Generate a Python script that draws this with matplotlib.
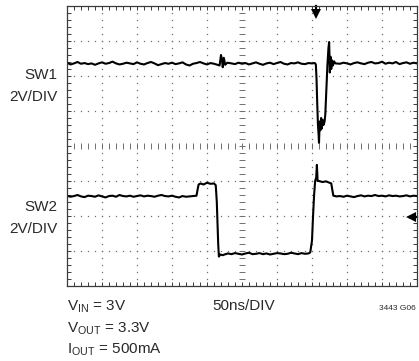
import numpy as np
import matplotlib
matplotlib.use("Agg")
import matplotlib.pyplot as plt

plt.rcParams["font.family"] = ["Liberation Sans", "DejaVu Sans"]
plt.rcParams["mathtext.fontset"] = "custom"
plt.rcParams["mathtext.rm"] = "Liberation Sans"
plt.rcParams["mathtext.it"] = "Liberation Sans:italic"

# ---- trace data (time in divisions, amplitude in divisions) ----
sw1_t = ([round(0.1 * i, 2) for i in range(44)]
         + [4.36, 4.40, 4.43, 4.45, 4.48, 4.52, 4.58]
         + [round(4.7 + 0.1 * i, 2) for i in range(24)]
         + [7.08, 7.11, 7.13, 7.15, 7.17, 7.19, 7.20, 7.22, 7.24, 7.26, 7.28,
            7.30, 7.33, 7.36, 7.38, 7.41, 7.44, 7.47, 7.49, 7.51, 7.53, 7.55,
            7.57, 7.60, 7.63, 7.67]
         + [round(7.8 + 0.1 * i, 2) for i in range(23)])
sw1_v = ([6.38, 6.33, 6.36, 6.40, 6.35, 6.37, 6.34, 6.36, 6.32, 6.36, 6.39,
          6.35, 6.37, 6.41, 6.36, 6.33, 6.35, 6.38, 6.36, 6.34, 6.39, 6.35,
          6.33, 6.37, 6.40, 6.36, 6.31, 6.34, 6.37, 6.35, 6.38, 6.34, 6.36,
          6.39, 6.33, 6.30, 6.35, 6.37, 6.40, 6.36, 6.33, 6.37, 6.35, 6.32]
         + [6.30, 6.60, 6.45, 6.25, 6.52, 6.32, 6.38]
         + [6.36, 6.34, 6.38, 6.35, 6.37, 6.33, 6.36, 6.39, 6.35, 6.32, 6.36,
            6.38, 6.34, 6.37, 6.40, 6.35, 6.33, 6.37, 6.36, 6.39, 6.35, 6.34,
            6.37, 6.36]
         + [6.37, 6.33, 5.90, 5.20, 4.60, 4.30, 4.09, 4.70, 4.45, 4.80, 4.50,
            4.75, 4.60, 4.70, 4.90, 5.60, 6.30, 6.80, 6.97, 6.10, 6.55, 6.20,
            6.45, 6.30, 6.42, 6.36]
         + [6.35, 6.38, 6.36, 6.33, 6.37, 6.39, 6.36, 6.34, 6.38, 6.40, 6.36,
            6.37, 6.41, 6.35, 6.38, 6.36, 6.40, 6.34, 6.37, 6.39, 6.35, 6.38,
            6.36])

sw2_t = ([round(0.1 * i, 2) for i in range(37)]
         + [3.70, 3.73, 3.76, 3.82, 3.90, 4.00, 4.10, 4.20, 4.25, 4.28, 4.30,
            4.32, 4.34, 4.38, 4.45]
         + [round(4.5 + 0.1 * i, 2) for i in range(25)]
         + [6.95, 7.00, 7.03, 7.06, 7.09, 7.12, 7.14, 7.16, 7.20, 7.30, 7.40,
            7.50, 7.55, 7.58, 7.61, 7.70]
         + [round(7.8 + 0.1 * i, 2) for i in range(23)])
sw2_v = ([2.58, 2.55, 2.57, 2.60, 2.56, 2.54, 2.58, 2.57, 2.55, 2.59, 2.56,
          2.53, 2.57, 2.58, 2.55, 2.60, 2.57, 2.56, 2.58, 2.55, 2.57, 2.59,
          2.56, 2.58, 2.57, 2.55, 2.58, 2.60, 2.57, 2.56, 2.58, 2.55, 2.53,
          2.57, 2.55, 2.56, 2.57]
         + [2.58, 2.75, 2.90, 2.93, 2.90, 2.95, 2.92, 2.93, 2.88, 2.40, 1.80,
            1.20, 0.84, 0.90, 0.88]
         + [0.90, 0.93, 0.91, 0.94, 0.92, 0.90, 0.93, 0.95, 0.91, 0.92, 0.94,
            0.91, 0.93, 0.90, 0.92, 0.94, 0.93, 0.91, 0.92, 0.95, 0.93, 0.91,
            0.94, 0.92, 0.93]
         + [0.96, 1.30, 2.00, 2.60, 3.00, 3.10, 3.46, 3.00, 3.00, 2.97, 2.99,
            2.95, 2.93, 2.75, 2.58, 2.56]
         + [2.57, 2.55, 2.58, 2.56, 2.54, 2.57, 2.59, 2.56, 2.58, 2.57, 2.60,
            2.57, 2.58, 2.56, 2.59, 2.57, 2.58, 2.56, 2.57, 2.59, 2.56, 2.58,
            2.57])

trigger_t = 7.11      # trigger position marker (top)
ground2_v = 1.97      # channel reference marker (right edge)

W, H = 419, 361
fig = plt.figure(figsize=(W / 100, H / 100), dpi=100)
fig.patch.set_facecolor("white")
ax = fig.add_axes([67 / W, (H - 286) / H, 350 / W, 280 / H])
ax.set_xlim(0, 10)
ax.set_ylim(0, 8)

grid_c = "#707070"
frame_c = "#3a3a3a"

# frame with small inward ticks every 1/5 division
for s in ax.spines.values():
    s.set_color(frame_c)
    s.set_linewidth(0.9)
ax.set_xticks(np.arange(0, 10.01, 0.2))
ax.set_yticks(np.arange(0, 8.01, 0.2))
ax.tick_params(direction="in", length=3, width=0.7, color=frame_c,
               top=True, right=True, labelbottom=False, labelleft=False)

# dotted graticule
sub_x = np.arange(0, 10.01, 0.2)
sub_y = np.arange(0, 8.01, 0.2)
for gx in range(1, 10):
    if gx == 5:
        continue
    ax.plot(np.full_like(sub_y, gx), sub_y, ls="none", marker="s",
            ms=0.9, color=grid_c, mew=0)
for gy in range(1, 8):
    if gy == 4:
        continue
    ax.plot(sub_x, np.full_like(sub_x, gy), ls="none", marker="s",
            ms=0.9, color=grid_c, mew=0)
# centre axes drawn as tick rows
ax.plot(np.full_like(sub_y, 5), sub_y, ls="none", marker="_", ms=4,
        mew=0.7, color=grid_c)
ax.plot(sub_x, np.full_like(sub_x, 4), ls="none", marker="|", ms=4,
        mew=0.7, color=grid_c)

# traces
ax.plot(sw1_t, sw1_v, color="black", lw=1.5, solid_joinstyle="round")
ax.plot(sw2_t, sw2_v, color="black", lw=1.5, solid_joinstyle="round")

# markers
ax.plot([trigger_t, trigger_t], [8.0, 7.85], color="black", lw=1.6,
        clip_on=False)
ax.plot([trigger_t], [7.78], marker="v", ms=6.5, color="black", mew=0,
        clip_on=False)
ax.plot([9.9, 10.0], [ground2_v, ground2_v], color="black", lw=1.6,
        clip_on=False)
ax.plot([9.84], [ground2_v], marker="<", ms=6.5, color="black", mew=0,
        clip_on=False)

# labels
txt_c = "#2a2a2a"
fs = 11


def put(px, py, s, ha="left", size=fs):
    fig.text(px / W, 1 - py / H, s, ha=ha, va="center", fontsize=size,
             color=txt_c)


put(57, 75, "SW1", ha="right")
put(57, 97, "2V/DIV", ha="right")
put(57, 207, "SW2", ha="right")
put(57, 229, "2V/DIV", ha="right")

put(67, 307, r"V$_\mathrm{IN}$ = 3V")
put(67, 329, r"V$_\mathrm{OUT}$ = 3.3V")
put(67, 350, r"I$_\mathrm{OUT}$ = 500mA")
put(212, 306, "50ns/DIV")
put(379, 308, "3443 G06", size=6)

fig.savefig("out.png", dpi=100, facecolor="white")
